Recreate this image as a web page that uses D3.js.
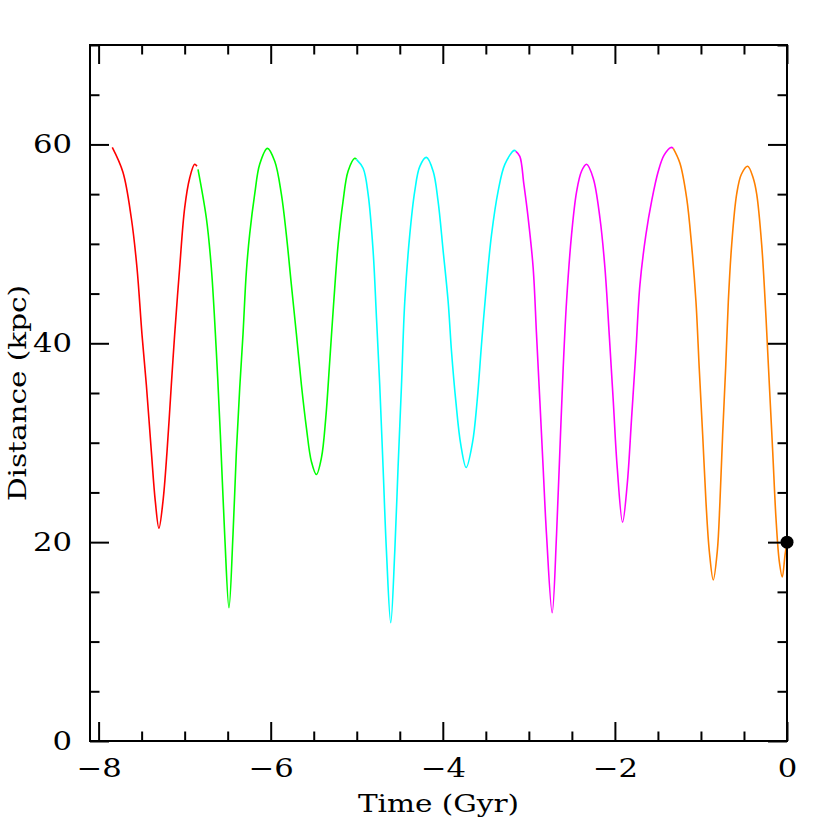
<!DOCTYPE html>
<html>
<head>
<meta charset="utf-8">
<script src="https://cdn.jsdelivr.net/npm/d3@7"></script>
<style>
  html, body { margin: 0; padding: 0; background: #fff; }
  svg { display: block; }
  text { font-family: "DejaVu Serif", serif; fill: #000; }
</style>
</head>
<body>
<svg id="chart" width="830" height="830"></svg>
<script>
// ---- data ----
const xMajorTicks = [-8, -6, -4, -2, 0];
const yMajorTicks = [0, 20, 40, 60];
const xLabel = "Time (Gyr)";
const yLabel = "Distance (kpc)";

const segmentColors = ["#ff0000", "#00ff00", "#00ffff", "#ff00ff", "#ff8000"];

const redTime = [-7.841,-7.717,-7.620,-7.554,-7.496,-7.445,-7.387,-7.341,-7.299,-7.252,-7.205,-7.155,-7.116,-7.058,-7.000,-6.942,-6.884,-6.857];
const redDist = [59.7,57.2,52.6,47.6,40.9,35.8,29.1,24.1,21.4,24.1,29.1,35.8,40.9,47.6,53.6,56.6,58.0,57.8];

const greenTime = [-6.845,-6.748,-6.690,-6.632,-6.585,-6.535,-6.485,-6.438,-6.399,-6.360,-6.322,-6.283,-6.244,-6.186,-6.128,-6.038,-5.953,-5.876,-5.818,-5.760,-5.701,-5.643,-5.585,-5.527,-5.469,-5.410,-5.360,-5.314,-5.267,-5.217,-5.159,-5.101,-5.023,-5.004];
const greenDist = [57.5,52.6,47.6,39.2,30.8,20.8,13.4,20.8,29.1,35.5,40.9,47.2,51.0,55.0,58.0,59.6,58.3,55.0,50.9,45.9,40.9,35.8,31.5,28.1,26.8,28.5,32.5,38.2,44.2,49.9,54.3,57.3,58.6,58.5];

const cyanTime = [-5.004,-4.926,-4.868,-4.810,-4.771,-4.733,-4.694,-4.655,-4.605,-4.558,-4.520,-4.480,-4.442,-4.384,-4.326,-4.267,-4.190,-4.112,-4.055,-3.996,-3.938,-3.899,-3.849,-3.791,-3.728,-3.655,-3.601,-3.550,-3.492,-3.434,-3.357,-3.279,-3.171,-3.151];
const cyanDist = [58.5,57.6,55.0,49.3,42.6,35.8,27.5,19.1,11.9,19.1,27.5,35.8,44.2,50.9,55.3,57.8,58.7,57.3,54.3,49.3,44.2,39.2,34.2,29.8,27.5,30.0,34.2,39.9,45.9,50.9,55.3,58.0,59.4,59.3];

const magentaTime = [-3.151,-3.105,-3.058,-3.008,-2.950,-2.911,-2.872,-2.834,-2.795,-2.729,-2.678,-2.640,-2.601,-2.562,-2.504,-2.446,-2.388,-2.329,-2.252,-2.174,-2.116,-2.066,-2.019,-1.973,-1.911,-1.857,-1.806,-1.756,-1.709,-1.640,-1.571,-1.496,-1.430,-1.349,-1.322];
const magentaDist = [59.3,58.8,56.0,52.6,47.6,40.9,34.2,27.5,20.8,12.9,20.8,29.1,37.5,44.2,50.9,55.2,57.3,58.0,56.6,52.6,47.6,40.9,34.2,27.5,22.0,25.8,32.5,39.2,45.9,50.9,54.4,57.3,58.9,59.7,59.6];

const orangeTime = [-1.322,-1.244,-1.166,-1.109,-1.058,-1.020,-0.980,-0.942,-0.903,-0.857,-0.810,-0.779,-0.748,-0.713,-0.682,-0.643,-0.585,-0.530,-0.457,-0.392,-0.352,-0.294,-0.244,-0.205,-0.166,-0.128,-0.090,-0.055,-0.023,0.000];
const orangeDist = [59.6,58.1,54.6,49.9,44.2,37.5,30.8,24.1,19.1,16.2,19.1,24.1,30.8,37.5,44.2,49.9,55.0,57.0,57.8,56.6,55.0,49.9,42.6,35.8,29.1,22.4,18.1,16.5,18.7,20.0];

const currentTime = [0];
const currentDist = [20];

// ---- chart ----
const svg = d3.select("#chart");
const mLeft = 90, mRight = 787, mTop = 45, mBottom = 741;
const stretch = 1.18; // horizontal widening of the glyphs

const x = d3.scaleLinear().domain([-8.1, 0]).range([mLeft, mRight]);
const y = d3.scaleLinear().domain([0, 70]).range([mBottom, mTop]);

const segments = [
  [redTime, redDist], [greenTime, greenDist], [cyanTime, cyanDist],
  [magentaTime, magentaDist], [orangeTime, orangeDist]
];

const line = d3.line()
  .x(d => x(d[0]))
  .y(d => y(d[1]))
  .curve(d3.curveCatmullRom.alpha(0.5));

const plot = svg.append("g");
segments.forEach((s, i) => {
  const pts = s[0].map((t, k) => [t, s[1][k]]);
  plot.append("path")
    .datum(pts)
    .attr("d", line)
    .attr("fill", "none")
    .attr("stroke", segmentColors[i])
    .attr("stroke-width", 1.6)
    .attr("stroke-linejoin", "round");
});

// axes
const fmt = d => (d < 0 ? "\u2212" + Math.abs(d) : String(d));
const xMinor = d3.range(-8, 0.001, 0.5).filter(v => !xMajorTicks.includes(v));
const yMinor = d3.range(0, 70.001, 5).filter(v => !yMajorTicks.includes(v));
const major = 19, minor = 9.5;

function styleAxis(g) {
  g.select(".domain").remove();
  g.selectAll(".tick line").attr("stroke", "#000").attr("stroke-width", 2);
  g.selectAll(".tick text").attr("font-size", 26).attr("font-family", "DejaVu Serif, serif").attr("fill", "#000");
}

// bottom
svg.append("g").attr("transform", `translate(0,${mBottom})`)
  .call(d3.axisBottom(x).tickValues(xMajorTicks).tickSize(-major).tickPadding(18).tickFormat(fmt))
  .call(styleAxis)
  .call(g => g.selectAll(".tick text").attr("transform", `scale(${stretch},1)`));
svg.append("g").attr("transform", `translate(0,${mBottom})`)
  .call(d3.axisBottom(x).tickValues(xMinor).tickSize(-minor).tickFormat(""))
  .call(styleAxis);
// top
svg.append("g").attr("transform", `translate(0,${mTop})`)
  .call(d3.axisTop(x).tickValues(xMajorTicks).tickSize(-major).tickFormat(""))
  .call(styleAxis);
svg.append("g").attr("transform", `translate(0,${mTop})`)
  .call(d3.axisTop(x).tickValues(xMinor).tickSize(-minor).tickFormat(""))
  .call(styleAxis);
// left
svg.append("g").attr("transform", `translate(${mLeft},0)`)
  .call(d3.axisLeft(y).tickValues(yMajorTicks).tickSize(-major).tickPadding(18).tickFormat(fmt))
  .call(styleAxis)
  .call(g => g.selectAll(".tick text").attr("x", -18 / stretch).attr("transform", `scale(${stretch},1)`));
svg.append("g").attr("transform", `translate(${mLeft},0)`)
  .call(d3.axisLeft(y).tickValues(yMinor).tickSize(-minor).tickFormat(""))
  .call(styleAxis);
// right
svg.append("g").attr("transform", `translate(${mRight},0)`)
  .call(d3.axisRight(y).tickValues(yMajorTicks).tickSize(-major).tickFormat(""))
  .call(styleAxis);
svg.append("g").attr("transform", `translate(${mRight},0)`)
  .call(d3.axisRight(y).tickValues(yMinor).tickSize(-minor).tickFormat(""))
  .call(styleAxis);

// frame
svg.append("rect")
  .attr("x", mLeft).attr("y", mTop)
  .attr("width", mRight - mLeft).attr("height", mBottom - mTop)
  .attr("fill", "none").attr("stroke", "#000").attr("stroke-width", 2);

// current position marker
svg.append("g").selectAll("circle")
  .data(currentTime.map((t, i) => [t, currentDist[i]]))
  .join("circle")
  .attr("cx", d => x(d[0])).attr("cy", d => y(d[1]))
  .attr("r", 6.5).attr("fill", "#000");

// axis titles
svg.append("text")
  .attr("transform", `translate(${(mLeft + mRight) / 2},812) scale(${stretch},1)`)
  .attr("text-anchor", "middle").attr("font-size", 25)
  .text(xLabel);
svg.append("text")
  .attr("transform", `translate(26,${(mTop + mBottom) / 2}) rotate(-90) scale(${stretch},1)`)
  .attr("text-anchor", "middle").attr("font-size", 25)
  .text(yLabel);
</script>
</body>
</html>
